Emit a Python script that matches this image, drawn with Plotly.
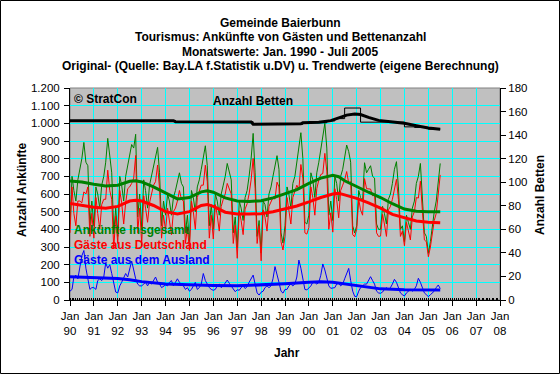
import plotly.graph_objects as go
import pandas as pd

# ---------------- data ----------------
# monthly values Jan 1990 .. Jul 2005
total_arrivals = [
    430, 700, 620, 560, 680, 740, 800, 892, 780, 760, 420, 560,   # 1990
    420, 640, 600, 520, 650, 700, 780, 915, 820, 720, 380, 520,   # 1991
    360, 700, 650, 560, 700, 760, 820, 880, 860, 938, 470, 600,   # 1992
    400, 680, 620, 520, 650, 700, 760, 800, 864, 720, 420, 560,   # 1993
    480, 600, 560, 480, 580, 620, 680, 720, 660, 640, 380, 480,   # 1994
    330, 620, 580, 500, 640, 680, 740, 800, 873, 760, 420, 540,   # 1995
    400, 600, 560, 480, 600, 650, 700, 773, 720, 680, 380, 470,   # 1996
    294, 560, 520, 450, 580, 620, 700, 800, 943, 720, 360, 450,   # 1997
    266, 560, 540, 470, 600, 640, 700, 760, 817, 740, 380, 322,   # 1998
    420, 640, 600, 520, 660, 700, 780, 850, 947, 800, 440, 430,   # 1999
    480, 720, 680, 580, 720, 780, 850, 920, 1000, 860, 480, 560,  # 2000
    450, 700, 660, 560, 700, 740, 800, 877, 840, 780, 420, 379,   # 2001
    420, 620, 580, 560, 777, 720, 740, 760, 700, 690, 430, 400,   # 2002
    400, 530, 490, 430, 570, 600, 660, 740, 783, 640, 400, 420,   # 2003
    330, 480, 440, 400, 520, 560, 660, 700, 773, 580, 380, 360,   # 2004
    264, 330, 420, 500, 560, 680, 773,                            # 2005
]
guests_germany = [
    380, 640, 490, 420, 560, 560, 550, 612, 600, 640, 360, 490,
    350, 580, 490, 400, 540, 570, 570, 735, 620, 570, 290, 475,
    320, 620, 550, 430, 550, 630, 640, 660, 690, 818, 380, 520,
    320, 590, 520, 440, 550, 610, 650, 670, 764, 630, 350, 480,
    395, 520, 460, 370, 500, 520, 560, 620, 570, 560, 320, 410,
    280, 560, 500, 400, 580, 610, 650, 650, 763, 670, 350, 480,
    345, 540, 480, 390, 530, 570, 600, 660, 625, 600, 320, 423,
    236, 505, 450, 370, 515, 545, 600, 680, 802, 630, 320, 422,
    222, 510, 470, 390, 530, 560, 580, 571, 667, 640, 330, 283,
    360, 580, 520, 430, 580, 610, 650, 624, 767, 690, 380, 373,
    410, 640, 580, 480, 630, 680, 710, 716, 830, 730, 400, 494,
    384, 630, 570, 465, 620, 650, 680, 727, 661, 670, 370, 358,
    401, 570, 510, 480, 687, 630, 630, 628, 590, 600, 380, 360,
    362, 485, 430, 360, 510, 530, 570, 623, 683, 570, 360, 390,
    307, 440, 390, 340, 470, 500, 580, 577, 673, 510, 340, 330,
    245, 300, 380, 450, 490, 595, 708,
]
guests_abroad = [
    50, 60, 130, 140, 120, 180, 250, 280, 180, 120, 60, 70,
    70, 60, 110, 120, 110, 130, 210, 180, 200, 150, 90, 45,
    40, 80, 100, 130, 150, 130, 180, 220, 170, 120, 90, 80,
    80, 90, 100, 80, 100, 90, 110, 130, 100, 90, 70, 80,
    85, 80, 100, 110, 80, 100, 120, 100, 90, 80, 60, 70,
    50, 60, 80, 100, 60, 70, 90, 150, 110, 90, 70, 60,
    55, 60, 80, 90, 70, 80, 100, 113, 95, 80, 60, 47,
    58, 55, 70, 80, 65, 75, 100, 120, 141, 90, 40, 28,
    44, 50, 70, 80, 70, 80, 120, 189, 150, 100, 50, 39,
    60, 60, 80, 90, 80, 90, 130, 226, 180, 110, 60, 57,
    70, 80, 100, 100, 90, 100, 140, 204, 170, 130, 80, 66,
    66, 70, 90, 95, 80, 90, 120, 150, 179, 110, 50, 21,
    19, 50, 70, 80, 90, 90, 110, 132, 110, 90, 50, 40,
    38, 45, 60, 70, 60, 70, 90, 117, 100, 70, 40, 30,
    23, 40, 50, 60, 50, 60, 80, 123, 100, 70, 40, 30,
    19, 30, 40, 50, 70, 85, 65,
]

# trend values (eigene Berechnung)
trend_total_dates = ["1990-01-01", "1990-07-01", "1991-01-01", "1991-07-01", "1992-01-01",
                     "1992-07-01", "1992-10-01", "1993-01-01", "1993-07-01", "1994-01-01",
                     "1994-07-01", "1995-01-01", "1995-07-01", "1995-10-01", "1996-01-01",
                     "1996-07-01", "1997-01-01", "1997-07-01", "1998-01-01", "1998-07-01",
                     "1999-01-01", "1999-07-01", "2000-01-01", "2000-07-01", "2001-01-01",
                     "2001-04-01", "2001-07-01", "2002-01-01", "2002-07-01", "2003-01-01",
                     "2003-07-01", "2004-01-01", "2004-07-01", "2005-01-01", "2005-07-01"]
trend_total = [673, 668, 655, 645, 650, 672, 675, 668, 640, 605,
               572, 580, 612, 618, 610, 578, 560, 558, 562, 578,
               600, 625, 660, 690, 706, 698, 675, 641, 610, 580,
               545, 515, 503, 500, 500]
trend_germany = [547, 535, 525, 519, 530, 560, 565, 560, 535, 500,
                 487, 500, 535, 541, 530, 497, 487, 487, 488, 500,
                 515, 532, 555, 580, 600, 604, 595, 575, 550, 520,
                 485, 465, 447, 440, 437]
trend_abroad_dates = ["1990-01-01", "1991-01-01", "1992-01-01", "1992-07-01", "1993-01-01",
                      "1994-01-01", "1995-01-01", "1996-01-01", "1997-01-01", "1998-01-01",
                      "1999-01-01", "2000-01-01", "2000-07-01", "2001-01-01", "2002-01-01",
                      "2003-01-01", "2004-01-01", "2005-01-01", "2005-07-01"]
trend_abroad = [132, 127, 122, 115, 104, 90, 85, 82, 80, 85,
                92, 100, 104, 100, 80, 63, 58, 57, 57]

# beds (right axis)
beds_dates = ["1990-01-01", "1994-06-01", "1997-09-01", "1999-10-01", "2000-10-01",
              "2001-02-01", "2001-07-01", "2002-03-01", "2004-01-01", "2004-06-01",
              "2005-01-01", "2005-07-01"]
beds = [152.2, 151.4, 149.1, 150.5, 152.0, 154.0, 163.0, 151.0, 147.0, 146.5, 145.0, 145.0]
beds_trend_dates = ["1990-01-01", "1994-05-01", "1994-06-01", "1997-08-01", "1997-09-01",
                    "1999-09-01", "1999-10-01", "2000-06-01", "2000-12-01", "2001-04-01",
                    "2001-08-01", "2001-12-01", "2002-03-01", "2002-07-01", "2002-12-01",
                    "2003-06-01", "2004-01-01", "2004-07-01", "2005-01-01", "2005-07-01"]
beds_trend = [152.2, 152.2, 151.4, 151.2, 149.3, 149.6, 150.5, 151.0, 152.3, 154.5,
              157.0, 158.0, 157.5, 155.0, 152.5, 151.3, 150.0, 148.0, 146.0, 145.0]

tick_years = list(range(1990, 2009))
tick_year_labels = ["90", "91", "92", "93", "94", "95", "96", "97", "98", "99",
                    "00", "01", "02", "03", "04", "05", "06", "07", "08"]

months = pd.date_range("1990-01-01", periods=len(total_arrivals), freq="MS")

GREEN, RED, BLUE, BLACK = "#008000", "#FF0000", "#0000FF", "#000000"
FONT = "Liberation Sans, Arial, sans-serif"

fig = go.Figure()
fig.add_trace(go.Scatter(x=months, y=total_arrivals, mode="lines",
                         line=dict(color=GREEN, width=1)))
fig.add_trace(go.Scatter(x=months, y=guests_germany, mode="lines",
                         line=dict(color=RED, width=1)))
fig.add_trace(go.Scatter(x=months, y=guests_abroad, mode="lines",
                         line=dict(color=BLUE, width=1)))
fig.add_trace(go.Scatter(x=trend_total_dates, y=trend_total, mode="lines",
                         line=dict(color=GREEN, width=3)))
fig.add_trace(go.Scatter(x=trend_total_dates, y=trend_germany, mode="lines",
                         line=dict(color=RED, width=3)))
fig.add_trace(go.Scatter(x=trend_abroad_dates, y=trend_abroad, mode="lines",
                         line=dict(color=BLUE, width=3)))
fig.add_trace(go.Scatter(x=beds_dates, y=beds, mode="lines", yaxis="y2",
                         line=dict(color=BLACK, width=1, shape="hv")))
fig.add_trace(go.Scatter(x=beds_trend_dates, y=beds_trend, mode="lines", yaxis="y2",
                         line=dict(color=BLACK, width=3)))

# geometry helpers (plot area: x 70..500, y 88..300 px)
L, R, T, B = 70, 500, 88, 300
def px(x):
    return (x - L) / (R - L)
def py(y):
    return (B - y) / (B - T)

annotations = []
for text, y in [("Gemeinde Baierbunn", 22.5),
                ("Tourismus: Ankünfte von Gästen und Bettenanzahl", 37.2),
                ("Monatswerte: Jan. 1990 - Juli 2005", 51.6),
                ("Original- (Quelle: Bay.LA f.Statistik u.DV) u. Trendwerte (eigene Berechnung)", 66)]:
    annotations.append(dict(text="<b>%s</b>" % text, x=px(280), y=py(y), xref="paper", yref="paper",
                            xanchor="center", yanchor="middle", showarrow=False,
                            font=dict(size=12, color=BLACK, family=FONT)))
for text, x, y, col in [("© StratCon", 72, 99, BLACK),
                        ("Anzahl Betten", 211, 101.5, BLACK),
                        ("Ankünfte Insgesamt", 72, 230, GREEN),
                        ("Gäste aus Deutschland", 72, 245, RED),
                        ("Gäste aus dem Ausland", 72, 260, BLUE)]:
    annotations.append(dict(text="<b>%s</b>" % text, x=px(x), y=py(y), xref="paper", yref="paper",
                            xanchor="left", yanchor="middle", showarrow=False,
                            font=dict(size=12, color=col, family=FONT)))
annotations.append(dict(text="<b>Anzahl Ankünfte</b>", x=px(22), y=py(190), xref="paper", yref="paper",
                        xanchor="center", yanchor="middle", showarrow=False, textangle=-90,
                        font=dict(size=12, color=BLACK, family=FONT)))
annotations.append(dict(text="<b>Anzahl Betten</b>", x=px(540), y=py(195), xref="paper", yref="paper",
                        xanchor="center", yanchor="middle", showarrow=False, textangle=-90,
                        font=dict(size=12, color=BLACK, family=FONT)))
annotations.append(dict(text="<b>Jahr</b>", x=px(287), y=py(353), xref="paper", yref="paper",
                        xanchor="center", yanchor="middle", showarrow=False,
                        font=dict(size=12, color=BLACK, family=FONT)))

shapes = [
    dict(type="rect", xref="paper", yref="paper", x0=0, x1=1, y0=0, y1=1,
         line=dict(color="#808080", width=1), layer="below"),
    dict(type="rect", xref="paper", yref="paper", x0=px(0.5), x1=px(559.5), y0=py(373.5), y1=py(0.5),
         line=dict(color=BLACK, width=1), layer="above"),
]

fig.update_layout(
    width=560, height=374, autosize=False,
    margin=dict(l=L, r=560 - R, t=T, b=374 - B),
    paper_bgcolor="white", plot_bgcolor="#C0C0C0",
    showlegend=False, separators=",.",
    font=dict(family=FONT, size=11, color=BLACK),
    annotations=annotations, shapes=shapes,
    xaxis=dict(type="date", range=["1990-01-01", "2008-01-01"],
               tickvals=["%d-01-01" % y for y in tick_years],
               ticktext=["Jan<br>%s" % s for s in tick_year_labels],
               ticks="outside", ticklen=5, tickcolor=BLACK, ticklabelstandoff=0,
               showgrid=True, gridcolor="#00FFFF", gridwidth=1,
               showline=True, linecolor=BLACK, linewidth=1, zeroline=False,
               tickfont=dict(size=11.5, family=FONT, color=BLACK),
               minor=dict(dtick="M1", ticks="inside", ticklen=2, tickcolor=BLACK, showgrid=False)),
    yaxis=dict(range=[0, 1200], dtick=100, tickformat=",d",
               ticks="outside", ticklen=5, tickcolor=BLACK, ticklabelstandoff=2,
               showgrid=True, gridcolor="#00FFFF", gridwidth=1,
               showline=True, linecolor=BLACK, linewidth=1, zeroline=False,
               tickfont=dict(size=11.5, family=FONT, color=BLACK)),
    yaxis2=dict(range=[0, 180], dtick=20, overlaying="y", side="right",
                ticks="outside", ticklen=5, tickcolor=BLACK, ticklabelstandoff=0,
                showgrid=False, showline=True, linecolor=BLACK, linewidth=1, zeroline=False,
                tickfont=dict(size=11.5, family=FONT, color=BLACK)),
)

fig.write_html("out.html", config={"displayModeBar": False},
               post_script="document.body.style.margin='0px';document.body.style.overflow='hidden';")
